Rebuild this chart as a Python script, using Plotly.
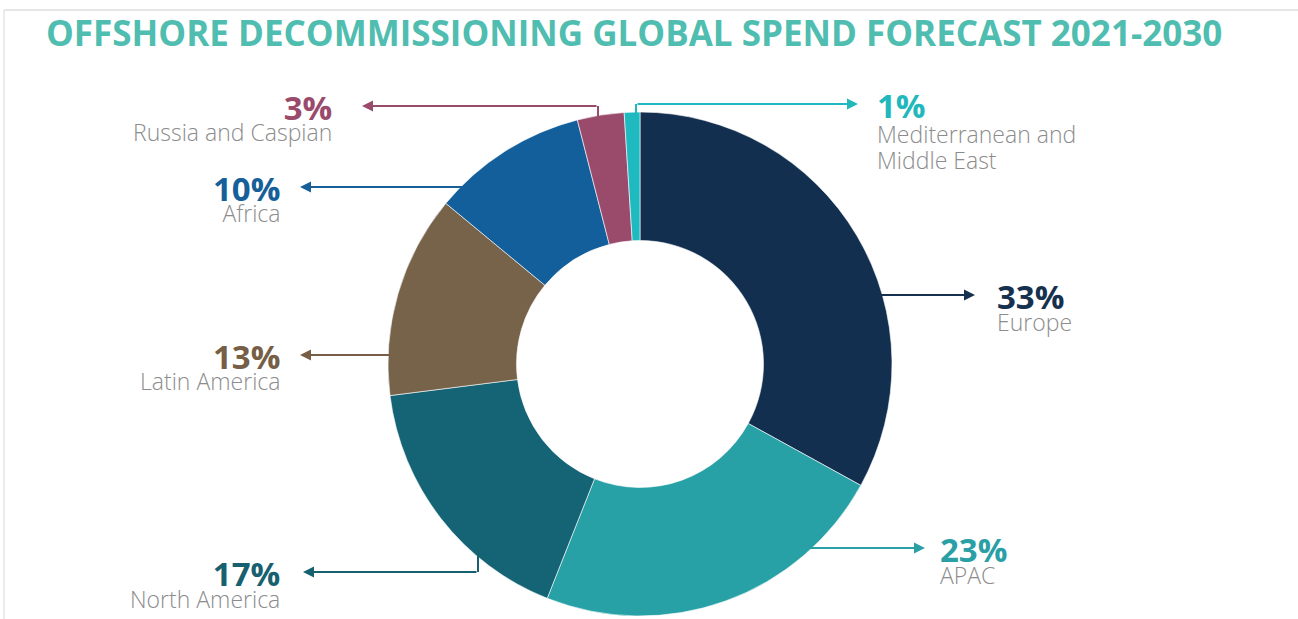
import plotly.graph_objects as go

W, H = 1298, 619

# Regional share of offshore decommissioning spend, 2021-2030 (%)
regions = ["Europe", "APAC", "North America", "Latin America", "Africa",
           "Russia and Caspian", "Mediterranean and<br>Middle East"]
shares = [33, 23, 17, 13, 10, 3, 1]
slice_colors = ["#122f50", "#27a0a6", "#146475", "#77624a", "#125f9b",
                "#9a4b6c", "#1ebac0"]
pct_colors = ["#16304f", "#2a9fa6", "#17606f", "#765f46", "#175f98",
              "#9a4b6c", "#1fb8bc"]

# Callout geometry in page pixels: leader path (last point is the arrow tip),
# label x position, which side of the label is anchored, and line pitch.
callouts = [
    dict(path=[(878, 295), (975, 295)], tx=995, side="left", pitch=17),
    dict(path=[(808, 548), (925, 548)], tx=938, side="left", pitch=17),
    dict(path=[(478, 550), (478, 572), (303, 572)], tx=282, side="right", pitch=17),
    dict(path=[(392, 355), (300, 355)], tx=282, side="right", pitch=16.5),
    dict(path=[(466, 187), (300, 187)], tx=282, side="right", pitch=16),
    dict(path=[(598, 120), (598, 106), (362, 106)], tx=334, side="right", pitch=16),
    dict(path=[(636, 116), (636, 104), (858, 104)], tx=875, side="left", pitch=19.5),
]

CX, CY, R = 640, 364, 252


def px(x):
    return x / W


def py(y):
    return 1 - y / H


fig = go.Figure(go.Pie(
    labels=[r.replace("<br>", " ") for r in regions],
    values=shares,
    sort=False,
    direction="clockwise",
    rotation=0,
    hole=0.49,
    marker=dict(colors=slice_colors, line=dict(color="#ffffff", width=0.6)),
    textinfo="none",
    hoverinfo="label+percent",
    showlegend=False,
    domain=dict(x=[px(CX - R), px(CX + R)], y=[py(CY + R), py(CY - R)]),
))

shapes = []
annotations = []

for name, val, tcol, c in zip(regions, shares, pct_colors, callouts):
    pts = c["path"]
    # elbow segments of the leader
    for (x0, y0), (x1, y1) in zip(pts[:-2], pts[1:-1]):
        shapes.append(dict(type="line", xref="paper", yref="paper",
                           x0=px(x0), y0=py(y0), x1=px(x1), y1=py(y1),
                           line=dict(color=tcol, width=2)))
    (sx, sy), (ex, ey) = pts[-2], pts[-1]
    annotations.append(dict(
        xref="paper", yref="paper", x=px(ex), y=py(ey),
        ax=sx - ex, ay=sy - ey, axref="pixel", ayref="pixel",
        text="", showarrow=True, arrowhead=2, arrowsize=1.1,
        arrowwidth=2, arrowcolor=tcol, standoff=0, startstandoff=0,
    ))
    # percentage on the first line, region name underneath
    name_lines = "<br>".join(
        f"<span style='font-size:23px'>{part}</span>" for part in name.split("<br>")
    )
    label = (f"<span style='font-size:33px;color:{tcol}'><b>{val}%</b></span>"
             f"<br>{name_lines}")
    annotations.append(dict(
        xref="paper", yref="paper", x=px(c["tx"]), y=py(ey - 23),
        text=label, showarrow=False, xanchor=c["side"], yanchor="top",
        align=c["side"],
        font=dict(family="Open Sans", size=c["pitch"], color="#8c8c8c", weight=300),
    ))

# title
annotations.append(dict(
    xref="paper", yref="paper", x=px(634), y=py(32),
    text="<b>OFFSHORE DECOMMISSIONING GLOBAL SPEND FORECAST 2021-2030</b>",
    showarrow=False, xanchor="center", yanchor="middle",
    font=dict(family="Open Sans", size=35, color="#4fbdb0"),
))

# thin frame along the top and left edges
shapes.append(dict(type="line", xref="paper", yref="paper",
                   x0=px(4), y0=py(10), x1=1, y1=py(10),
                   line=dict(color="#cccccc", width=1)))
shapes.append(dict(type="line", xref="paper", yref="paper",
                   x0=px(4), y0=py(10), x1=px(4), y1=0,
                   line=dict(color="#d8d8d8", width=1)))

fig.update_layout(
    width=W, height=H,
    margin=dict(l=0, r=0, t=0, b=0),
    paper_bgcolor="#ffffff",
    plot_bgcolor="#ffffff",
    shapes=shapes,
    annotations=annotations,
)

fig.write_html("out.html")
